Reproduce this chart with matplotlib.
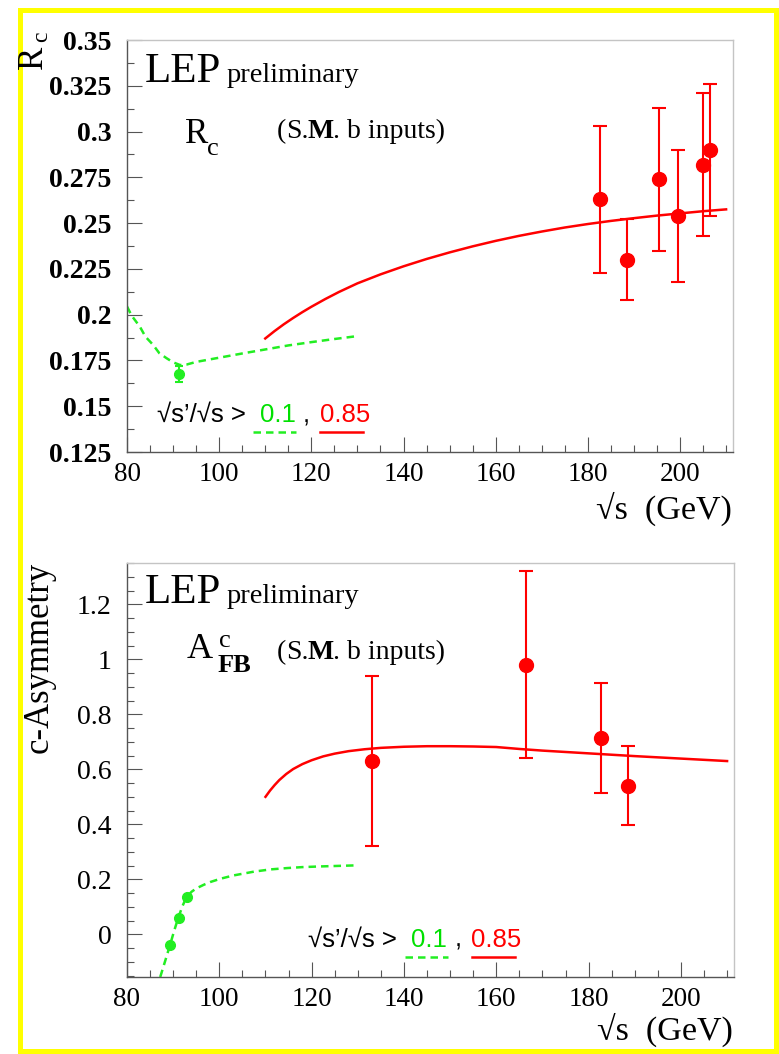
import matplotlib
matplotlib.use("Agg")
import matplotlib.pyplot as plt
from matplotlib.lines import Line2D
from matplotlib.patches import Rectangle
from matplotlib.ticker import MultipleLocator, FormatStrFormatter

# ---------------- data ----------------
# Top panel: R_c
rc_sqrts = [182.7, 188.6, 195.5, 199.5, 204.9, 206.6]
rc_val = [0.263, 0.230, 0.274, 0.254, 0.282, 0.290]
rc_err = [0.040, 0.022, 0.039, 0.036, 0.039, 0.036]

rc_z_sqrts = [91.2]
rc_z_val = [0.1674]
rc_z_err = [0.0043]

rc_sm_high_x = [110, 112, 114, 116, 118, 120, 123, 126, 130, 135, 140, 145,
                150, 155, 160, 165, 170, 175, 180, 185, 190, 195, 200, 205, 210]
rc_sm_high_y = [0.1870, 0.1910, 0.1947, 0.1981, 0.2013, 0.2043, 0.2085,
                0.2124, 0.2171, 0.2220, 0.2264, 0.2304, 0.2340, 0.2373,
                0.2403, 0.2430, 0.2454, 0.2476, 0.2495, 0.2512, 0.2527,
                0.2541, 0.2553, 0.2565, 0.2575]

rc_sm_low_x = [80, 81, 82.8, 84, 85.7, 87, 88.6, 90, 91.5, 93, 95, 100, 105,
               110, 115, 120, 125, 130]
rc_sm_low_y = [0.2045, 0.1995, 0.1934, 0.188, 0.1834, 0.179, 0.1762, 0.174,
               0.1725, 0.1728, 0.1742, 0.1765, 0.1788, 0.181, 0.1832, 0.185,
               0.1867, 0.1883]

# Bottom panel: A_FB^c
afb_sqrts = [133.0, 166.5, 182.7, 188.6]
afb_val = [0.63, 0.98, 0.715, 0.541]
afb_err = [0.31, 0.34, 0.20, 0.143]

afb_z_sqrts = [89.4, 91.2, 92.9]
afb_z_val = [-0.038, 0.060, 0.136]

afb_sm_high_x = [110, 111, 112, 113, 114.5, 116, 118, 120, 122.5, 125, 128,
                 131.5, 135, 140, 145, 150, 155, 160, 165, 170, 180, 190, 200,
                 210]
afb_sm_high_y = [0.500, 0.523, 0.543, 0.561, 0.583, 0.601, 0.619, 0.633,
                 0.647, 0.657, 0.666, 0.673, 0.678, 0.682, 0.684, 0.684,
                 0.683, 0.681, 0.674, 0.668, 0.658, 0.648, 0.639, 0.630]

afb_sm_low_x = [87.2, 88.3, 89.3, 90.2, 91.1, 92.0, 92.9, 94, 95, 96.6, 98,
                100.2, 103, 107.5, 111, 114.7, 118, 122, 126, 130]
afb_sm_low_y = [-0.155, -0.095, -0.040, 0.012, 0.060, 0.102, 0.136, 0.155,
                0.167, 0.180, 0.190, 0.202, 0.214, 0.228, 0.236, 0.241,
                0.2445, 0.247, 0.249, 0.251]

top_yticks = [0.125, 0.15, 0.175, 0.2, 0.225, 0.25, 0.275, 0.3, 0.325, 0.35]
bot_yticks = [0.0, 0.2, 0.4, 0.6, 0.8, 1.0, 1.2]
xticks = [80, 100, 120, 140, 160, 180, 200]

# ---------------- style ----------------
W, H = 779, 1054
RED = "#ff0000"
GREEN = "#22ee22"
SERIF = ["Liberation Serif", "DejaVu Serif"]
SANS = ["Liberation Sans", "DejaVu Sans"]

fig = plt.figure(figsize=(W / 100, H / 100), dpi=100)
fig.patch.set_facecolor("white")


def fx(x):
    return x / W


def fy(y):
    return 1 - y / H


def axes_px(left, top, right, bottom):
    return fig.add_axes([fx(left), fy(bottom), (right - left) / W, (bottom - top) / H])


ax1 = axes_px(127, 40, 733, 452)
ax2 = axes_px(127, 563, 734, 977)


def style_axes(ax, ymaj, ymin, yfmt):
    ax.set_xlim(80, 211.5)
    ax.set_xticks(xticks)
    ax.xaxis.set_minor_locator(MultipleLocator(5))
    ax.yaxis.set_major_locator(MultipleLocator(ymaj))
    ax.yaxis.set_minor_locator(MultipleLocator(ymin))
    ax.yaxis.set_major_formatter(FormatStrFormatter(yfmt))
    ax.tick_params(which="both", direction="in", colors="#555555", width=0.8,
                   top=False, right=False)
    ax.tick_params(which="major", length=11)
    ax.tick_params(which="minor", length=5)
    ax.tick_params(axis="x", which="major", pad=7, labelcolor="black")
    ax.tick_params(axis="y", which="major", pad=11, labelcolor="black")
    for lab in ax.get_xticklabels():
        lab.set_family(SERIF)
        lab.set_fontsize(19.5)
    for s in ("left", "bottom"):
        ax.spines[s].set_color("#555555")
        ax.spines[s].set_linewidth(1.0)
    for s in ("top", "right"):
        ax.spines[s].set_color("#c4c4c4")
        ax.spines[s].set_linewidth(1.0)


# ---- top panel ----
ax1.set_ylim(0.125, 0.35)
ax1.plot(rc_sm_low_x, rc_sm_low_y, color=GREEN, lw=1.8, dashes=(3, 2), zorder=2)
ax1.plot(rc_sm_high_x, rc_sm_high_y, color=RED, lw=1.8, zorder=2)
ax1.errorbar(rc_sqrts, rc_val, yerr=rc_err, fmt="o", color=RED, ms=10,
             elinewidth=1.5, capsize=4.7, capthick=1.5, zorder=3)
ax1.errorbar(rc_z_sqrts, rc_z_val, yerr=rc_z_err, fmt="o", color=GREEN, ms=7,
             elinewidth=1.5, capsize=3, capthick=1.5, zorder=3)
style_axes(ax1, 0.025, 0.0125, "%g")
ax1.set_yticks(top_yticks)
for lab in ax1.get_yticklabels():
    lab.set_family(SERIF)
    lab.set_fontsize(20)
    lab.set_fontweight("bold")

# ---- bottom panel ----
ax2.set_ylim(-0.155, 1.35)
ax2.plot(afb_sm_low_x, afb_sm_low_y, color=GREEN, lw=1.8, dashes=(3, 2), zorder=2)
ax2.plot(afb_sm_high_x, afb_sm_high_y, color=RED, lw=1.8, zorder=2)
ax2.errorbar(afb_sqrts, afb_val, yerr=afb_err, fmt="o", color=RED, ms=10,
             elinewidth=1.5, capsize=4.7, capthick=1.5, zorder=3)
ax2.plot(afb_z_sqrts, afb_z_val, "o", color=GREEN, ms=7, zorder=3)
style_axes(ax2, 0.2, 0.05, "%g")
ax2.set_yticks(bot_yticks)
for lab in ax2.get_yticklabels():
    lab.set_family(SERIF)
    lab.set_fontsize(20)

# ---------------- texts ----------------
def ftext(x, y, s, size, family=SERIF, weight="normal", color="black",
          ha="left", va="baseline", rot=0):
    fig.text(fx(x), fy(y), s, fontsize=size, family=family, fontweight=weight,
             color=color, ha=ha, va=va, rotation=rot)


for dy in (0, 521):
    ftext(145, 82 + dy, "LEP", 31)
    ftext(227, 82 + dy, "preliminary", 20.5)
    ftext(277, 138 + dy, "(", 20)
    ftext(286, 138 + dy, "S.", 20)
    ftext(307, 138 + dy, "M", 20, weight="bold")
    ftext(333, 138 + dy, ". b inputs)", 20)

# R_c label
ftext(185, 143, "R", 25)
ftext(207, 155, "c", 19)
# A_FB^c label
ftext(187, 658, "A", 26)
ftext(219, 647, "c", 19)
ftext(218, 672, "FB", 19, weight="bold")

# y labels
ftext(33.5, 57.5, "R", 25, ha="center", va="center", rot=90)
ftext(42, 37, "c", 17, ha="center", va="center", rot=90)
ftext(39, 657, "c-Asymmetry", 25, ha="center", va="center", rot=90)

# x labels
ftext(732, 519, "\u221as  (GeV)", 24.5, ha="right")
ftext(733, 1040, "\u221as  (GeV)", 24.5, ha="right")

# cut annotation
for dx, dy in ((0, 0), (151.5, 525)):
    ftext(157 + dx, 422 + dy, "\u221as\u2019/\u221as >", 18.5, family=SANS)
    ftext(260 + dx, 422 + dy, "0.1", 18.5, family=SANS, color="#00e000")
    ftext(303 + dx, 422 + dy, ",", 18.5, family=SANS)
    ftext(320 + dx, 422 + dy, "0.85", 18.5, family=SANS, color=RED)
    fig.add_artist(Line2D([fx(253 + dx), fx(296 + dx)], [fy(432 + dy)] * 2,
                          color=GREEN, lw=1.8, dashes=(3, 2)))
    fig.add_artist(Line2D([fx(320 + dx), fx(363 + dx)], [fy(432 + dy)] * 2,
                          color=RED, lw=1.8))

# yellow frame
fig.add_artist(Rectangle((fx(19.5), fy(1050.5)), (775.5 - 19.5) / W,
                         (1050.5 - 9.5) / H, fill=False, edgecolor="#ffff00",
                         lw=3.6, transform=fig.transFigure))

fig.savefig("out.png", dpi=100, facecolor="white")
